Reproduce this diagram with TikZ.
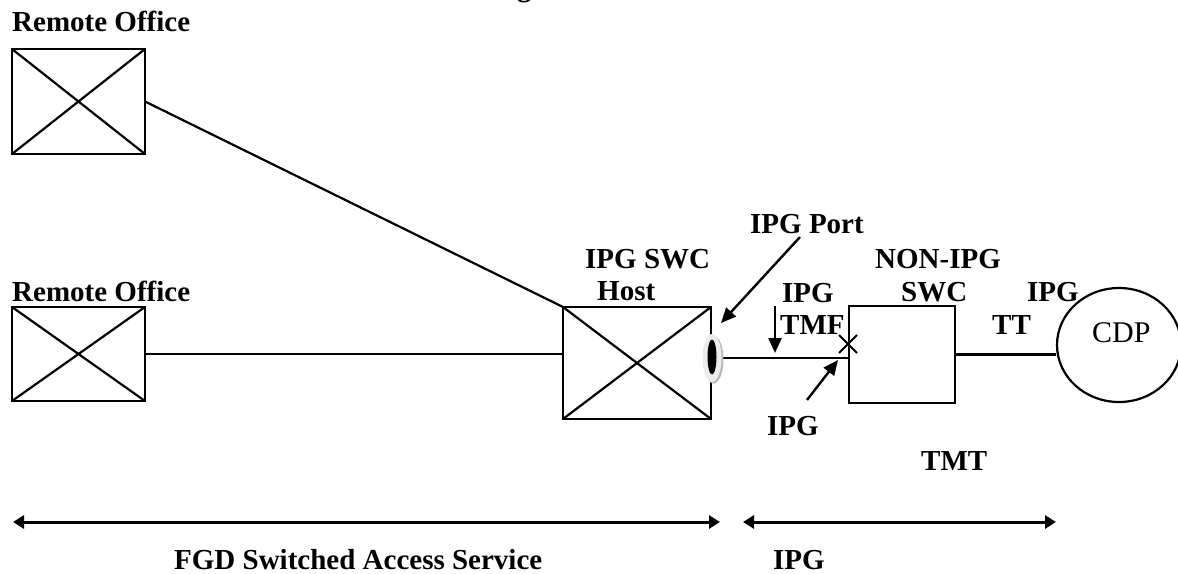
\documentclass[tikz,border=0pt]{standalone}
\usepackage{fontspec}
\setmainfont{Liberation Serif}
\usetikzlibrary{arrows.meta,shapes.geometric,calc}
\begin{document}
\begin{tikzpicture}[x=1pt,y=-1pt,
  lbl/.style={anchor=base west,inner sep=0pt,font=\fontsize{29}{32}\selectfont\bfseries},
  box/.style={draw,line width=2.6pt,inner sep=0pt,outer sep=0pt},
  wire/.style={line width=2.2pt},
  ptr/.style={line width=2.4pt,-{Triangle[length=15pt,width=13pt]}},
  dim/.style={line width=3pt,{Triangle[length=11pt,width=13pt]}-{Triangle[length=11pt,width=13pt]}}]
\useasboundingbox (0,0) rectangle (1178,573);
% partial title glyph at the very top
\node[lbl] (ttl) at (517,-4) {g};
% boxes
\node[box,minimum width=133pt,minimum height=105pt] (ro1) at (78.5,101.5) {};
\node[box,minimum width=133pt,minimum height=94pt] (ro2) at (78.5,354) {};
\node[box,minimum width=148pt,minimum height=112pt] (host) at (637,363) {};
\node[box,minimum width=106pt,minimum height=97pt] (nonipg) at (902,354.5) {};
\node[draw,line width=2.2pt,ellipse,minimum width=124pt,minimum height=114pt,inner sep=0pt] (cdp) at (1119,345) {};
\foreach \b in {ro1,ro2,host}{
  \draw[wire] (\b.north west) -- (\b.south east);
  \draw[wire] (\b.south west) -- (\b.north east);
}
% connectors
\draw[wire] (ro1.east) -- (host.north west);
\draw[wire] (ro2.east) -- (ro2.east -| host.west);
\coordinate (pc) at (712,358);
\draw[wire] (pc) -- (pc -| nonipg.west);
\draw[wire] (nonipg.east) -- (nonipg.east -| cdp.west);
% port symbol
\fill[gray!55] ($(pc)+(1.5,1.5)$) ellipse (10pt and 24pt);
\node[ellipse,fill=gray!15,minimum width=19pt,minimum height=48pt,inner sep=0pt] (port) at (pc) {};
\node[ellipse,fill=black,minimum width=9pt,minimum height=35pt,inner sep=0pt] (porti) at (712,357) {};
% X mark
\coordinate (xm) at (848,344);
\draw[line width=1.8pt] ($(xm)+(-9,-9)$) -- ($(xm)+(9,9)$);
\draw[line width=1.8pt] ($(xm)+(-9,9)$) -- ($(xm)+(9,-9)$);
% pointers
\coordinate (pa) at (800,237);
\coordinate (pb) at (721,323);
\draw[ptr] (pa) -- (pb);
\coordinate (da) at (775,306);
\coordinate (db) at (775,353);
\draw[ptr] (da) -- (db);
\coordinate (ua) at (807,400);
\coordinate (ub) at (838,360);
\draw[ptr] (ua) -- (ub);
% dimension arrows
\coordinate (d1a) at (13,522);
\coordinate (d1b) at (720,522);
\coordinate (d2a) at (743,522);
\coordinate (d2b) at (1056,522);
\draw[dim] (d1a) -- (d1b);
\draw[dim] (d2a) -- (d2b);
% labels
\node[lbl] (t1) at (12,31) {Remote Office};
\node[lbl] (t2) at (12,301) {Remote Office};
\node[lbl] (t3) at (585,268) {IPG SWC};
\node[lbl] (t4) at (597,300) {Host};
\node[lbl] (t5) at (750,233) {IPG Port};
\node[lbl] (t6) at (782,302) {IPG};
\node[lbl] (t7) at (780,334) {TMF};
\node[lbl] (t8) at (767,435) {IPG};
\node[lbl] (t9) at (875,268) {NON-IPG};
\node[lbl] (t10) at (901,301) {SWC};
\node[lbl] (t11) at (1027,301) {IPG};
\node[lbl] (t12) at (992,334) {TT};
\node[lbl] (t13) at (921,470) {TMT};
\node[lbl] (t14) at (174,569) {FGD Switched Access Service};
\node[lbl] (t15) at (773,569) {IPG};
\node[anchor=base west,inner sep=0pt,font=\fontsize{30}{32}\selectfont] (t16) at (1092,342) {CDP};
\end{tikzpicture}
\end{document}
